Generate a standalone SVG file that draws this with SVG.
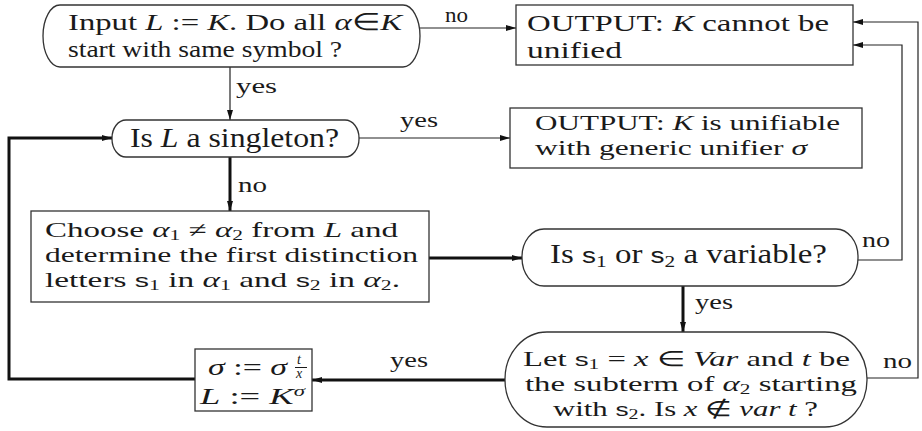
<svg xmlns="http://www.w3.org/2000/svg" width="922" height="431" viewBox="0 0 922 431">
<defs>
<style>
.bg{fill:#fff}
.node{fill:#fff;stroke:#333;stroke-width:1.3}
.t{font-family:"Liberation Serif","Times New Roman",serif;font-size:21px;fill:#1a1a1a}
.t24{font-size:24px}
.t27{font-size:27px}
.lb{font-family:"Liberation Serif","Times New Roman",serif;font-size:22px;fill:#1a1a1a}
.m{font-style:italic}
.s{font-family:"Liberation Sans",Arial,sans-serif;font-size:0.85em}
.sub{font-size:0.65em}
.thin{fill:none;stroke:#222;stroke-width:1.2}
.thick{fill:none;stroke:#111;stroke-width:3}
</style>
<marker id="ah" viewBox="0 0 10 6" refX="10" refY="3" markerWidth="10" markerHeight="6" markerUnits="userSpaceOnUse" orient="auto">
<path d="M0,0 L10,3 L0,6 z" fill="#111"/>
</marker>
</defs>
<rect class="bg" x="0" y="0" width="922" height="431"/>

<g id="connectors">
<path class="thin" d="M420,28 H516" marker-end="url(#ah)"/>
<path class="thin" d="M230,67 V120" marker-end="url(#ah)"/>
<path class="thin" d="M359,138 H510" marker-end="url(#ah)"/>
<path class="thick" d="M230,157 V211" marker-end="url(#ah)"/>
<path class="thick" d="M429,258 H522" marker-end="url(#ah)"/>
<path class="thin" d="M858,260 H902 V45 H853" marker-end="url(#ah)"/>
<path class="thick" d="M683,286 V332" marker-end="url(#ah)"/>
<path class="thin" d="M867,378 H918 V22 H853" marker-end="url(#ah)"/>
<path class="thick" d="M505,380 H312" marker-end="url(#ah)"/>
<path class="thick" d="M195,379 H9 V138 H112" marker-end="url(#ah)"/>
<text class="lb" x="445" y="22" textLength="23" lengthAdjust="spacingAndGlyphs">no</text>
<text class="lb" x="236" y="93" textLength="41" lengthAdjust="spacingAndGlyphs">yes</text>
<text class="lb" x="400" y="127" textLength="38" lengthAdjust="spacingAndGlyphs">yes</text>
<text class="lb" x="238" y="192" textLength="29" lengthAdjust="spacingAndGlyphs">no</text>
<text class="lb" x="862" y="247" textLength="28" lengthAdjust="spacingAndGlyphs">no</text>
<text class="lb" x="695" y="309" textLength="38" lengthAdjust="spacingAndGlyphs">yes</text>
<text class="lb" x="883" y="368" textLength="29" lengthAdjust="spacingAndGlyphs">no</text>
<text class="lb" x="390" y="367" textLength="38" lengthAdjust="spacingAndGlyphs">yes</text>
</g>

<g id="start">
<rect class="node" x="43" y="5" width="377" height="62" rx="17" ry="31"/>
<text class="t t24" x="68" y="30" textLength="334" lengthAdjust="spacingAndGlyphs">Input <tspan class="m">L</tspan> := <tspan class="m">K</tspan>. Do all <tspan class="m">α</tspan>∈<tspan class="m">K</tspan></text>
<text class="t t24" x="68" y="57" textLength="274" lengthAdjust="spacingAndGlyphs">start with same symbol ?</text>
</g>

<g id="fail">
<rect class="node" x="516" y="5" width="337" height="60"/>
<text class="t t24" x="527" y="31" textLength="302" lengthAdjust="spacingAndGlyphs">OUTPUT: <tspan class="m">K</tspan> cannot be</text>
<text class="t t24" x="527" y="58" textLength="95" lengthAdjust="spacingAndGlyphs">unified</text>
</g>

<g id="singleton">
<rect class="node" x="112" y="120" width="247" height="37" rx="14" ry="18"/>
<text class="t t27" x="130" y="147" textLength="209" lengthAdjust="spacingAndGlyphs">Is <tspan class="m">L</tspan> a singleton?</text>
</g>

<g id="success">
<rect class="node" x="510" y="108" width="352" height="60"/>
<text class="t" x="535" y="130" textLength="305" lengthAdjust="spacingAndGlyphs">OUTPUT: <tspan class="m">K</tspan> is unifiable</text>
<text class="t" x="535" y="155" textLength="272" lengthAdjust="spacingAndGlyphs">with generic unifier <tspan class="m">σ</tspan></text>
</g>

<g id="choose">
<rect class="node" x="31" y="211" width="398" height="91"/>
<text class="t" x="45" y="237" textLength="353" lengthAdjust="spacingAndGlyphs">Choose <tspan class="m">α</tspan><tspan class="sub" dy="3">1</tspan><tspan dy="-3"> ≠ </tspan><tspan class="m">α</tspan><tspan class="sub" dy="3">2</tspan><tspan dy="-3"> from </tspan><tspan class="m">L</tspan> and</text>
<text class="t" x="45" y="262" textLength="373" lengthAdjust="spacingAndGlyphs">determine the first distinction</text>
<text class="t" x="45" y="287" textLength="355" lengthAdjust="spacingAndGlyphs">letters <tspan class="s">s</tspan><tspan class="sub" dy="3">1</tspan><tspan dy="-3"> in </tspan><tspan class="m">α</tspan><tspan class="sub" dy="3">1</tspan><tspan dy="-3"> and </tspan><tspan class="s">s</tspan><tspan class="sub" dy="3">2</tspan><tspan dy="-3"> in </tspan><tspan class="m">α</tspan><tspan class="sub" dy="3">2</tspan><tspan dy="-3">.</tspan></text>
</g>

<g id="isvar">
<rect class="node" x="522" y="229" width="336" height="57" rx="22" ry="28"/>
<text class="t t27" x="550" y="263" textLength="277" lengthAdjust="spacingAndGlyphs">Is <tspan class="s">s</tspan><tspan class="sub" dy="4">1</tspan><tspan dy="-4"> or </tspan><tspan class="s">s</tspan><tspan class="sub" dy="4">2</tspan><tspan dy="-4"> a variable?</tspan></text>
</g>

<g id="occurs">
<rect class="node" x="505" y="332" width="362" height="95" rx="42" ry="47"/>
<text class="t" x="523" y="366" textLength="327" lengthAdjust="spacingAndGlyphs">Let <tspan class="s">s</tspan><tspan class="sub" dy="2.5">1</tspan><tspan dy="-2.5"> = </tspan><tspan class="m">x</tspan> ∈ <tspan class="m">Var</tspan> and <tspan class="m">t</tspan> be</text>
<text class="t" x="525" y="391" textLength="332" lengthAdjust="spacingAndGlyphs">the subterm of <tspan class="m">α</tspan><tspan class="sub" dy="2.5">2</tspan><tspan dy="-2.5"> starting</tspan></text>
<text class="t" x="553" y="416" textLength="265" lengthAdjust="spacingAndGlyphs">with <tspan class="s">s</tspan><tspan class="sub" dy="2.5">2</tspan><tspan dy="-2.5">. Is </tspan><tspan class="m">x</tspan> ∉ <tspan class="m">var t</tspan> ?</text>
</g>

<g id="update">
<rect class="node" x="195" y="349" width="117" height="62"/>
<text class="t t24" x="208" y="375" textLength="79" lengthAdjust="spacingAndGlyphs"><tspan class="m">σ</tspan> := <tspan class="m">σ</tspan></text>
<text class="t m" x="297" y="364" style="font-size:14px">t</text>
<line x1="295" y1="367.5" x2="307" y2="367.5" stroke="#1a1a1a" stroke-width="1"/>
<text class="t m" x="296" y="378" style="font-size:14px">x</text>
<text class="t t24" x="200" y="404" textLength="105" lengthAdjust="spacingAndGlyphs"><tspan class="m">L</tspan> := <tspan class="m">K</tspan><tspan class="m" dy="-8" style="font-size:15px">σ</tspan></text>
</g>
</svg>
